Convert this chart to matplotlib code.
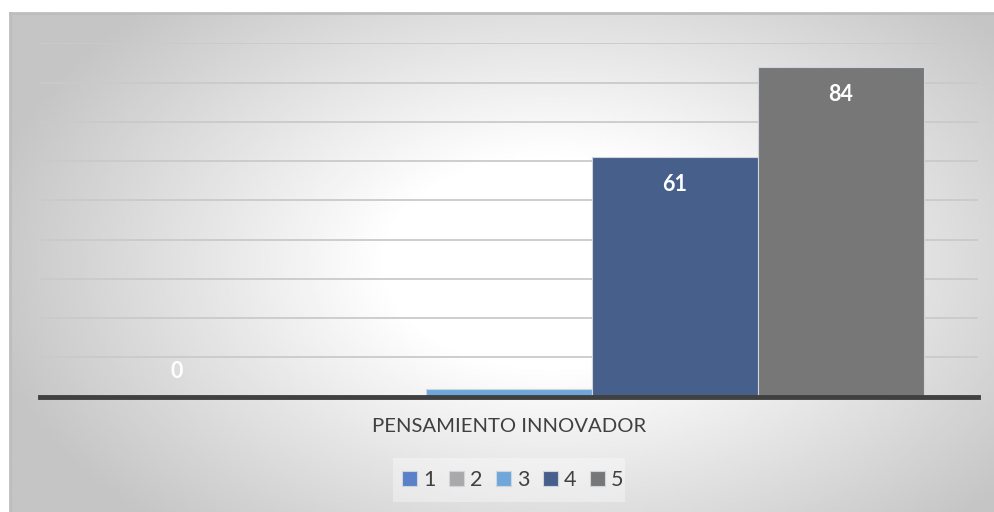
import numpy as np
import matplotlib.pyplot as plt
from matplotlib.patches import Rectangle

# datos
category = "PENSAMIENTO INNOVADOR"
series = ["1", "2", "3", "4", "5"]
values = [0, 0, 2, 61, 84]
colors = ["#5B80C8", "#A9A9A9", "#6FA7DB", "#465F8B", "#777777"]
label_values = [0, None, None, 61, 84]

plt.rcParams['font.family'] = ['Lato', 'DejaVu Sans']

W, H = 995, 512
fig = plt.figure(figsize=(W / 100, H / 100), dpi=100)
fig.patch.set_facecolor("white")

# fondo con degradado radial (marco del grafico)
fx0, fy0 = 10, 13
bg = fig.add_axes([fx0 / W, 0, (W - fx0) / W, (H - fy0) / H])
bg.set_axis_off()
gx, gy = np.meshgrid(np.linspace(0, 1, 400), np.linspace(0, 1, 200))
d = np.sqrt(((gx - 0.55) / 0.6) ** 2 + ((gy - 0.5) / 0.75) ** 2)
v = 1.0 - 0.23 * np.clip((d - 0.28) / 0.7, 0, 1)
bg.imshow(v, cmap="gray", vmin=0, vmax=1, extent=[0, 1, 0, 1], aspect="auto", origin="upper")
bg.plot([0, 1], [1, 1], color="#BDBDBD", lw=2, transform=bg.transAxes, clip_on=False)
bg.plot([0, 0], [0, 1], color="#BDBDBD", lw=2, transform=bg.transAxes, clip_on=False)
bg.set_xlim(0, 1)
bg.set_ylim(0, 1)

# area de trazado
px0, px1 = 40, 978
py_top, py_base = 43.3, 396.7
ax = fig.add_axes([px0 / W, (H - py_base) / H, (px1 - px0) / W, (py_base - py_top) / H])
ax.patch.set_alpha(0)

bw = 0.177
pos = [(i - 2) * bw for i in range(len(series))]
for p, val, c, s in zip(pos, values, colors, series):
    ax.bar(p, val, width=bw, color=c, edgecolor="#D0D5DD", linewidth=0.8, label=s, zorder=3)

for p, lv in zip(pos, label_values):
    if lv is None:
        continue
    if lv < 5:
        ax.text(p, 6.4, str(lv), ha="center", va="center", color="white",
                fontsize=15.5, fontweight="bold", zorder=4)
    else:
        ax.text(p, lv - 7.0, str(lv), ha="center", va="center", color="white",
                fontsize=15.5, fontweight="bold", zorder=4)

ax.set_xlim(-0.5, 0.5)
ax.set_ylim(0, 90)
ax.set_yticks(range(10, 91, 10))
ax.yaxis.grid(True, color="#CACACA", linewidth=1.3, zorder=0)
ax.tick_params(left=False, bottom=False, labelleft=False, labelbottom=False)
for sp in ax.spines.values():
    sp.set_visible(False)
ax.axhline(0, color="#404040", linewidth=3.5, zorder=5, clip_on=False)

fig.text(509 / W, 1 - 427 / H, category, ha="center", va="center",
         fontsize=14.6, color="#404040")

# leyenda
lbox = Rectangle((393 / W, 1 - 502 / H), 232 / W, 44 / H, transform=fig.transFigure,
                 facecolor="white", alpha=0.35, edgecolor="none")
fig.patches.append(lbox)
handles, labels = ax.get_legend_handles_labels()
leg = fig.legend(handles, labels, loc="center", bbox_to_anchor=(513 / W, 1 - 480 / H),
                 ncol=5, frameon=False, fontsize=15.5, handlelength=0.68, handleheight=0.68,
                 handletextpad=0.3, columnspacing=0.62, labelcolor="#404040")

fig.savefig("out.png", dpi=100)
